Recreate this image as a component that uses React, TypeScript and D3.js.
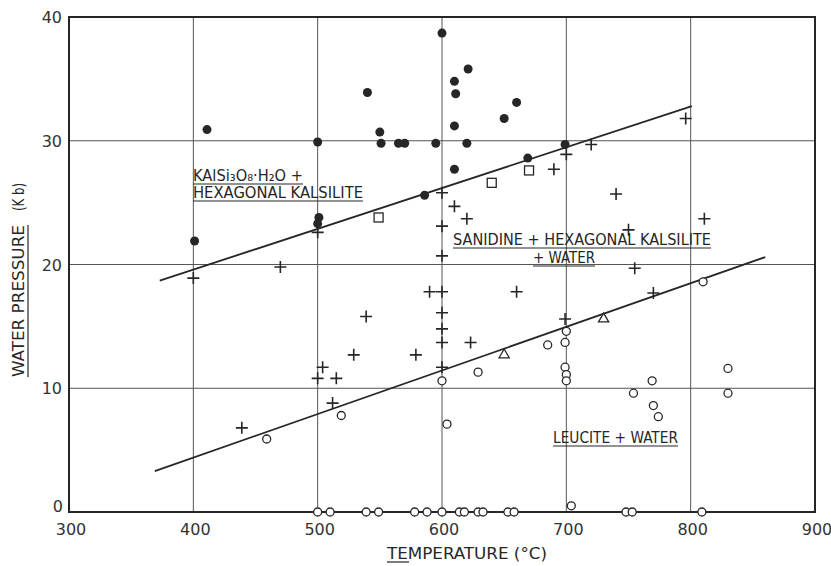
import React from "react";
import * as d3 from "d3";

const W = 831;
const H = 566;

const xTicks = [300, 400, 500, 600, 700, 800, 900];
const yTicks = [0, 10, 20, 30, 40];

// KAlSi3O8.H2O + hexagonal kalsilite (filled circles)
const hydratePts: [number, number][] = [
  [600, 38.7], [621, 35.8], [610, 34.8], [611, 33.8], [540, 33.9], [411, 30.9],
  [550, 30.7], [610, 31.2], [500, 29.9], [551, 29.8], [565, 29.8], [570, 29.8],
  [595, 29.8], [620, 29.8], [610, 27.7], [586, 25.6], [501, 23.8], [500, 23.3],
  [401, 21.9], [660, 33.1], [650, 31.8], [699, 29.7], [669, 28.6],
];

// sanidine + hexagonal kalsilite + water (plus signs)
const sanidinePts: [number, number][] = [
  [796, 31.8], [720, 29.7], [700, 28.9], [690, 27.7], [740, 25.7], [600, 25.8],
  [610, 24.7], [620, 23.7], [811, 23.7], [750, 22.8], [600, 23.1], [600, 20.7],
  [755, 19.7], [470, 19.8], [400, 18.9], [500, 22.6], [590, 17.8], [600, 17.8],
  [600, 16.1], [600, 14.8], [600, 13.7], [600, 11.7], [539, 15.8], [529, 12.7],
  [579, 12.7], [623, 13.7], [504, 11.7], [500, 10.8], [515, 10.8], [512, 8.8],
  [439, 6.8], [660, 17.8], [699, 15.6], [770, 17.7],
];

// open squares
const squarePts: [number, number][] = [[549, 23.8], [640, 26.6], [670, 27.6]];

// open triangles
const trianglePts: [number, number][] = [[650, 12.7], [730, 15.6]];

// leucite + water (open circles)
const leucitePts: [number, number][] = [
  [459, 5.9], [519, 7.8], [600, 10.6], [604, 7.1], [629, 11.3], [685, 13.5],
  [700, 14.6], [699, 13.7], [699, 11.7], [700, 11.1], [700, 10.6], [810, 18.6],
  [830, 11.6], [830, 9.6], [754, 9.6], [769, 10.6], [770, 8.6], [774, 7.7],
  [704, 0.5],
];

// open circles sitting on the zero line
const zeroLineTemps = [500, 510, 539, 549, 578, 588, 600, 614, 618, 629, 633, 653, 658, 748, 753, 809];

// boundary curves
const upperBoundary: [number, number][] = [[373, 18.7], [801, 32.8]];
const lowerBoundary: [number, number][] = [[369, 3.3], [860, 20.6]];

const INK = "#262626";
const labelFont = "'DejaVu Sans Condensed', 'Liberation Sans Narrow', 'Liberation Sans', sans-serif";
const tickFont = "'DejaVu Sans', 'Liberation Sans', sans-serif";

function Label({ x, y, w, size = 15.5, children }: any) {
  return (
    <g>
      <text x={x} y={y} fontSize={size} fontFamily={labelFont} fill={INK}
        textLength={w} lengthAdjust="spacingAndGlyphs">
        {children}
      </text>
      <line x1={x} x2={x + w} y1={y + 3} y2={y + 3} stroke={INK} strokeWidth={1.2} />
    </g>
  );
}

export default function App() {
  const x = d3.scaleLinear().domain([300, 900]).range([69, 815]);
  const y = d3.scaleLinear().domain([0, 40]).range([512, 17]);
  const line = d3.line<[number, number]>().x((d) => x(d[0])).y((d) => y(d[1]));
  const tri = d3.symbol().type(d3.symbolTriangle).size(45)();

  const [x0, x1] = x.range();
  const [y0, y1] = y.range();

  return (
    <svg width={W} height={H} style={{ position: "absolute", left: 0, top: 0, background: "#fff" }}>
      {/* grid */}
      {xTicks.slice(1, -1).map((t) => (
        <line key={"gx" + t} x1={x(t)} x2={x(t)} y1={y0} y2={y1} stroke="#555" strokeWidth={1} />
      ))}
      {yTicks.slice(1, -1).map((t) => (
        <line key={"gy" + t} x1={x0} x2={x1} y1={y(t)} y2={y(t)} stroke="#555" strokeWidth={1} />
      ))}
      <rect x={x0} y={y1} width={x1 - x0} height={y0 - y1} fill="none" stroke={INK} strokeWidth={2} />

      {/* tick labels */}
      {xTicks.map((t) => (
        <text key={"tx" + t} x={x(t) + 2} y={y0 + 23} textAnchor="middle" fontSize={16}
          fontFamily={tickFont} fill="#333">{t}</text>
      ))}
      {yTicks.map((t) => (
        <text key={"ty" + t} x={t === 0 ? x0 - 6 : x0 - 7} y={t === 0 ? y(t) : y(t) + 6}
          textAnchor="end" fontSize={16} fontFamily={tickFont} fill="#333">{t}</text>
      ))}

      {/* boundaries */}
      <path d={line(upperBoundary) || ""} fill="none" stroke={INK} strokeWidth={1.8} />
      <path d={line(lowerBoundary) || ""} fill="none" stroke={INK} strokeWidth={1.8} />

      {/* markers */}
      {hydratePts.map((d, i) => (
        <circle key={"h" + i} cx={x(d[0])} cy={y(d[1])} r={4.5} fill={INK} />
      ))}
      {sanidinePts.map((d, i) => (
        <path key={"s" + i} d={`M${x(d[0]) - 6},${y(d[1])}h12M${x(d[0])},${y(d[1]) - 6}v12`}
          stroke={INK} strokeWidth={1.6} />
      ))}
      {squarePts.map((d, i) => (
        <rect key={"q" + i} x={x(d[0]) - 4.5} y={y(d[1]) - 4.5} width={9} height={9}
          fill="#fff" stroke={INK} strokeWidth={1.3} />
      ))}
      {trianglePts.map((d, i) => (
        <path key={"t" + i} d={tri || ""} transform={`translate(${x(d[0])},${y(d[1])})`}
          fill="#fff" stroke={INK} strokeWidth={1.3} />
      ))}
      {leucitePts.map((d, i) => (
        <circle key={"l" + i} cx={x(d[0])} cy={y(d[1])} r={4} fill="#fff" stroke={INK} strokeWidth={1.3} />
      ))}
      {zeroLineTemps.map((t, i) => (
        <circle key={"z" + i} cx={x(t)} cy={y(0)} r={4} fill="#fff" stroke={INK} strokeWidth={1.3} />
      ))}

      {/* field labels */}
      <Label x={193} y={181} w={110}>KAlSi₃O₈·H₂O +</Label>
      <Label x={193} y={198} w={170}>HEXAGONAL  KALSILITE</Label>
      <Label x={453} y={245} w={258}>SANIDINE + HEXAGONAL   KALSILITE</Label>
      <Label x={533} y={263} w={62}>+ WATER</Label>
      <Label x={553} y={443} w={125}>LEUCITE + WATER</Label>

      {/* axis titles */}
      <text x={387} y={559} fontSize={16} fontFamily={labelFont} fill={INK}
        textLength={160} lengthAdjust="spacingAndGlyphs">TEMPERATURE (°C)</text>
      <line x1={387} x2={409} y1={562} y2={562} stroke={INK} strokeWidth={1.2} />

      <g transform="translate(24,377) rotate(-90)">
        <text x={0} y={0} fontSize={15} fontFamily={labelFont} fill={INK}
          textLength={152} lengthAdjust="spacingAndGlyphs">WATER PRESSURE</text>
        <line x1={0} x2={152} y1={4} y2={4} stroke={INK} strokeWidth={1.2} />
        <text x={166} y={0} fontSize={15} fontFamily={labelFont} fill={INK}
          textLength={28} lengthAdjust="spacingAndGlyphs">(K b)</text>
      </g>
    </svg>
  );
}
